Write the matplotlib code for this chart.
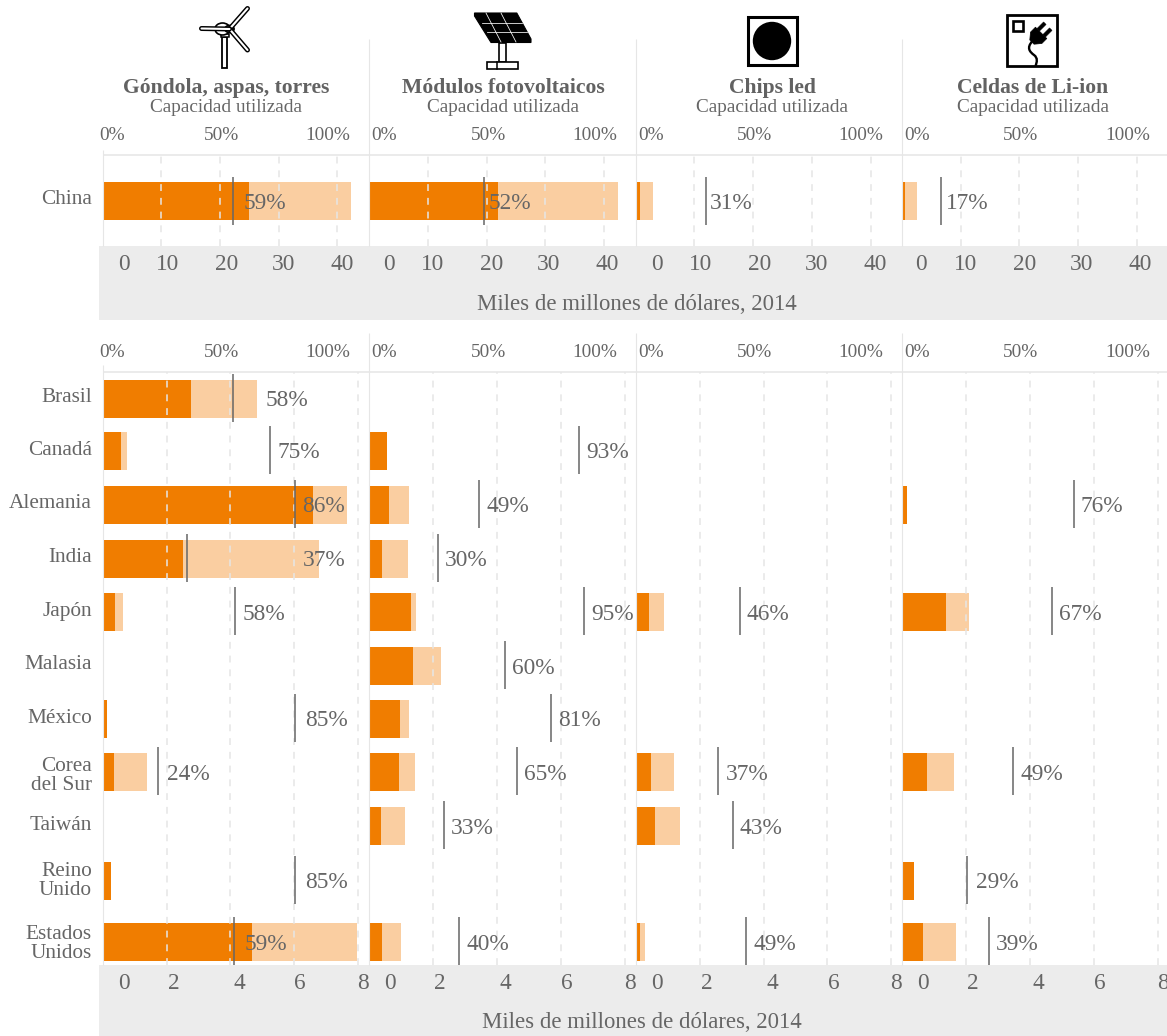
import matplotlib
matplotlib.use("Agg")
import matplotlib.pyplot as plt
from matplotlib.patches import Rectangle, Circle, Ellipse, Polygon, PathPatch
from matplotlib.path import Path
import matplotlib.transforms as mtrans

plt.rcParams['font.family'] = ['Liberation Serif', 'DejaVu Serif']

W, H = 1167, 1036
# ---------- data ----------
panel_titles = ["Góndola, aspas, torres", "Módulos fotovoltaicos", "Chips led", "Celdas de Li-ion"]
subtitle = "Capacidad utilizada"
axis_caption = "Miles de millones de dólares, 2014"
pct_ticks = [0, 50, 100]
top_ticks = [0, 10, 20, 30, 40]
bot_ticks = [0, 2, 4, 6, 8]

china_used = [24.9, 21.9, 0.8, 0.5]
china_total = [42.4, 42.3, 3.0, 2.55]
china_util = [57.5, 50.9, 31.0, 17.3]
china_label = [59, 52, 31, 17]

countries = ["Brasil", "Canadá", "Alemania", "India", "Japón", "Malasia", "México",
             "Corea\ndel Sur", "Taiwán", "Reino\nUnido", "Estados\nUnidos"]
used_wind = [2.77, 0.58, 6.59, 2.52, 0.39, None, 0.14, 0.36, None, 0.26, 4.68]
total_wind = [4.83, 0.76, 7.65, 6.77, 0.64, None, 0.14, 1.39, None, 0.26, 7.96]
util_wind = [57.6, 74.2, 85.1, 37.3, 58.6, None, 85.0, 24.7, None, 85.1, 58.3]
label_wind = [58, 75, 86, 37, 58, None, 85, 24, None, 85, 59]

used_pv = [None, 0.56, 0.62, 0.40, 1.31, 1.37, 0.96, 0.93, 0.37, None, 0.40]
total_pv = [None, 0.56, 1.25, 1.21, 1.46, 2.25, 1.25, 1.43, 1.12, None, 1.00]
util_pv = [None, 92.7, 48.7, 30.3, 95.2, 60.0, 80.6, 65.4, 33.0, None, 39.9]
label_pv = [None, 93, 49, 30, 95, 60, 81, 65, 33, None, 40]

used_led = [None, None, None, None, 0.42, None, None, 0.48, 0.60, None, 0.13]
total_led = [None, None, None, None, 0.89, None, None, 1.20, 1.39, None, 0.29]
util_led = [None, None, None, None, 46.0, None, None, 36.5, 42.9, None, 48.8]
label_led = [None, None, None, None, 46, None, None, 37, 43, None, 49]

used_li = [None, None, 0.16, None, 1.38, None, None, 0.78, None, 0.38, 0.66]
total_li = [None, None, 0.16, None, 2.10, None, None, 1.63, None, 0.38, 1.69]
util_li = [None, None, 76.0, None, 66.4, None, None, 49.1, None, 28.8, 38.4]
label_li = [None, None, 76, None, 67, None, None, 49, None, 29, 39]

used_all = [used_wind, used_pv, used_led, used_li]
total_all = [total_wind, total_pv, total_led, total_li]
util_all = [util_wind, util_pv, util_led, util_li]
label_all = [label_wind, label_pv, label_led, label_li]

# ---------- layout (pixels) ----------
edges = [102.6, 369.2, 635.7, 902.0, 1167.0]
row_top = [380, 432, 486, 540, 593, 647, 700, 753, 807, 862, 923]
name_base = [402, 455, 508, 562, 616, 669, 723, 771, 830, 876, 939]
title_cx = [226.5, 503, 772, 1033]
BAR_H = 38
TOP_PX, BOT_PX, PCT_PX = 5.87, 31.95, 2.26
ORANGE, LIGHT, TXT, GRID, BAND = "#F07D00", "#FACEA1", "#666666", "#E6E6E6", "#ECECEC"
FS_NUM, FS_PCT, FS_NAME, FS_AX, FS_SUB, FS_TITLE = 16.8, 13.9, 15.3, 16.4, 13.9, 15.6

# label shifts from the capacity mark, px
lab_shift_top = [11.4, 4.5, 4.5, 4.8]
lab_shift = {(0, 0): 32.3, (0, 3): 116.0, (0, 6): 10.0, (0, 7): 9.0, (0, 9): 10.0, (0, 10): 10.0,
             (3, 9): 9.0}
top_off = [[21.5, 6.5, 6.7, 4.7, 5.0], [19.4, 5.0, 4.6, 3.0, 3.0],
           [21.0, 6.5, 6.4, 4.5, 4.5], [19.4, 4.6, 5.0, 3.4, 3.0]]
bot_off = [21.0, 7.0, 8.5, 6.0, 5.0]

fig = plt.figure(figsize=(W / 100, H / 100), dpi=100, facecolor="white")


def rect(x0, x1, ytop, ybot):
    return [x0 / W, 1 - ybot / H, (x1 - x0) / W, (ybot - ytop) / H]


bg = fig.add_axes([0, 0, 1, 1], zorder=0)
bg.set_xlim(0, W); bg.set_ylim(H, 0); bg.axis("off")
fg = fig.add_axes([0, 0, 1, 1], zorder=5)
fg.set_xlim(0, W); fg.set_ylim(H, 0); fg.axis("off"); fg.patch.set_alpha(0)

# bands, rules, separators
for y0, y1 in [(246, 320), (965, 1036)]:
    bg.add_patch(Rectangle((99, y0), W - 99, y1 - y0, color=BAND, lw=0))
for y in (155, 372):
    bg.plot([103, W], [y, y], color=GRID, lw=1.1, solid_capstyle="butt")
sep_x = [103.2, 369.4, 636.2, 902.4]
for i, x in enumerate(sep_x):
    fg.plot([x, x], [150 if i == 0 else 39, 246], color=GRID, lw=0.8, solid_capstyle="butt")
    fg.plot([x, x], [365 if i == 0 else 333, 965], color=GRID, lw=0.8, solid_capstyle="butt")


def make_panel(i, ytop, ybot, px_per, ticks):
    x0, x1 = edges[i], edges[i + 1]
    ax = fig.add_axes(rect(x0, x1, ytop, ybot), zorder=2)
    ax.patch.set_alpha(0)
    ax.set_xlim(0, (x1 - x0) / px_per)
    ax.set_ylim(ybot, ytop)
    for s in ax.spines.values():
        s.set_visible(False)
    ax.set_xticks(ticks[1:]); ax.set_yticks([])
    ax.tick_params(length=0, labelbottom=False)
    ax.set_axisbelow(False)
    ax.grid(axis="x", color=GRID, lw=1.1, ls=(0, (4.5, 4.5)))
    pax = fig.add_axes(rect(x0, x1, ytop, ybot), zorder=3)
    pax.patch.set_alpha(0); pax.axis("off")
    pax.set_xlim(0, (x1 - x0) / PCT_PX)
    pax.set_ylim(ybot, ytop)
    return ax, pax


def ptext(ax, x, y, dx, s, fs, ha="center"):
    ax.annotate(s, xy=(x, y), xycoords="data", xytext=(dx, 0), textcoords="offset pixels",
                ha=ha, va="baseline", fontsize=fs, color=TXT, annotation_clip=False)


def pct_labels(pax, i, y):
    for v in pct_ticks:
        dx = {0: 9.4 if i == 0 else 15, 50: 6, 100: -0.5}[v]
        ptext(pax, v, y, dx, f"{v}%", FS_PCT)


for i in range(4):
    # China
    ax, pax = make_panel(i, 155, 246, TOP_PX, top_ticks)
    ax.barh(201, china_total[i], height=BAR_H, color=LIGHT, lw=0)
    ax.barh(201, china_used[i], height=BAR_H, color=ORANGE, lw=0)
    pax.plot([china_util[i]] * 2, [177, 225], color=TXT, lw=1.1, solid_capstyle="butt")
    ptext(pax, china_util[i], 209, lab_shift_top[i], f"{china_label[i]}%", FS_NUM, ha="left")
    pct_labels(pax, i, 139.5)
    for t, d in zip(top_ticks, top_off[i]):
        ptext(ax, t, 270, d, str(t), FS_NUM)

    # other countries
    ax, pax = make_panel(i, 372, 965, BOT_PX, bot_ticks)
    for r, top in enumerate(row_top):
        c = top + BAR_H / 2
        if total_all[i][r] is not None:
            ax.barh(c, total_all[i][r], height=BAR_H, color=LIGHT, lw=0)
            ax.barh(c, used_all[i][r], height=BAR_H, color=ORANGE, lw=0)
        if util_all[i][r] is not None:
            pax.plot([util_all[i][r]] * 2, [top - 5.7, top + BAR_H + 4], color=TXT, lw=1.1,
                     solid_capstyle="butt")
            ptext(pax, util_all[i][r], c + 7.5, lab_shift.get((i, r), 7.2),
                  f"{label_all[i][r]}%", FS_NUM, ha="left")
    pct_labels(pax, i, 357)
    for t, d in zip(bot_ticks, bot_off):
        ptext(ax, t, 989, d, str(t), FS_NUM)

    # headers
    fg.text(title_cx[i], 93, panel_titles[i], ha="center", va="baseline", fontsize=FS_TITLE,
            fontweight="bold", color="#626262")
    fg.text(title_cx[i], 111.5, subtitle, ha="center", va="baseline", fontsize=FS_SUB, color=TXT)

# country names
fg.text(92, 204, "China", ha="right", va="baseline", fontsize=FS_NAME, color=TXT)
for name, base in zip(countries, name_base):
    for k, part in enumerate(name.split("\n")):
        fg.text(92, base + 19 * k, part, ha="right", va="baseline", fontsize=FS_NAME, color=TXT)

# axis captions
fg.text(637, 309.5, axis_caption, ha="center", va="baseline", fontsize=FS_AX, color=TXT)
fg.text(642, 1028, axis_caption, ha="center", va="baseline", fontsize=FS_AX, color=TXT)

# ---------- icons ----------
K = "black"
# wind turbine
fg.add_patch(Rectangle((222.3, 37), 4.8, 31.3, fc="white", ec=K, lw=1.3))
fg.add_patch(Rectangle((221, 33.5), 7.5, 3.5, fc="white", ec=K, lw=1.1))
for tip in [(247.5, 8.5), (247.5, 50), (201.5, 28.5)]:
    fg.plot([229.5, tip[0]], [29, tip[1]], color=K, lw=3.6, solid_capstyle="round")
    fg.plot([229.5, tip[0]], [29, tip[1]], color="white", lw=1.5, solid_capstyle="round")
fg.add_patch(Ellipse((222.5, 29), 15, 12, fc="white", ec=K, lw=1.2))
fg.add_patch(Ellipse((229.5, 29), 9, 7, fc="white", ec=K, lw=1.3))

# solar panel
fg.add_patch(Polygon([(474.5, 13), (516.8, 13), (531, 39), (531, 42.5), (491, 42.5), (474.5, 16)],
                     fc=K, ec=K, lw=0.8))
for (a, b) in [((481.5, 23), (522, 23)), ((486.8, 32.3), (527, 32.3)),
               ((486, 13), (501, 42)), ((501, 13), (516, 42))]:
    fg.plot([a[0], b[0]], [a[1], b[1]], color="white", lw=0.55)
fg.add_patch(Rectangle((498.5, 42.5), 7, 19.2, fc="white", ec=K, lw=1.2))
fg.add_patch(Rectangle((486.5, 61.7), 31.8, 7, fc="white", ec=K, lw=1.2))
fg.plot([497.3, 497.3], [61.7, 68.7], color=K, lw=1.1)

# chip
fg.add_patch(Rectangle((748, 16.5), 48.5, 48.5, fc="white", ec=K, lw=2.2))
fg.add_patch(Circle((772, 41), 19.2, fc=K, ec="none"))

# plug
fg.add_patch(Rectangle((1007, 15), 50.3, 51.3, fc="white", ec=K, lw=2.0))
fg.add_patch(Rectangle((1012.8, 21), 10.5, 10.3, fc="white", ec=K, lw=1.9))
plug = mtrans.Affine2D().rotate_deg(-45).translate(1039, 35) + fg.transData
fg.add_patch(Polygon([(-10, -3), (-4, -8), (3, -8), (3, 8), (-4, 8), (-10, 3)], fc=K, ec=K, lw=0.5,
                     transform=plug, joinstyle="round"))
fg.add_patch(Rectangle((3, -6), 9.5, 3.6, fc=K, ec=K, lw=0.3, transform=plug))
fg.add_patch(Rectangle((3, 2.4), 9.5, 3.6, fc=K, ec=K, lw=0.3, transform=plug))
cord = Path([(1032.5, 41), (1026, 48), (1030, 52), (1034, 55), (1038, 58), (1037, 62), (1035.5, 66)],
            [Path.MOVETO, Path.CURVE4, Path.CURVE4, Path.CURVE4, Path.CURVE4, Path.CURVE4, Path.CURVE4])
fg.add_patch(PathPatch(cord, fc="none", ec=K, lw=1.7))

fig.savefig("out.png", dpi=100)
